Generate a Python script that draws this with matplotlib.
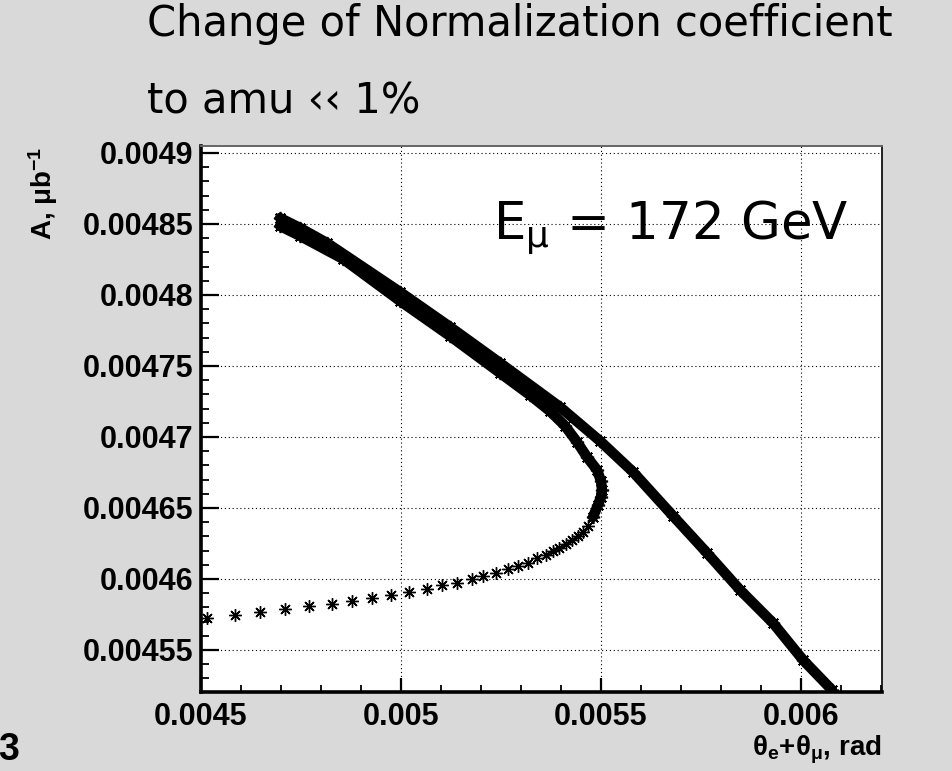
import numpy as np
import matplotlib.pyplot as plt
from matplotlib.ticker import MultipleLocator

plt.rcParams['font.family'] = ['Liberation Sans', 'DejaVu Sans']
plt.rcParams['mathtext.fontset'] = 'custom'
plt.rcParams['mathtext.rm'] = 'Liberation Sans'
plt.rcParams['mathtext.bf'] = 'Liberation Sans:bold'
plt.rcParams['mathtext.it'] = 'Liberation Sans:italic'

# sparse part of the curve, left of the turning point
low_x = [0.004515, 0.004585, 0.0046475, 0.00471, 0.00477, 0.0048275, 0.0048775,
         0.0049275, 0.004975, 0.00502, 0.005065, 0.0051025, 0.00514, 0.0051775,
         0.005205, 0.0052375, 0.0052675, 0.0052925, 0.0053175, 0.00534, 0.0053625,
         0.00538, 0.005395, 0.0054125, 0.0054275, 0.0054425, 0.005455, 0.0054675]
low_y = [0.0045725, 0.0045746, 0.0045768, 0.0045789, 0.004581, 0.0045824, 0.0045845,
         0.0045866, 0.0045887, 0.0045908, 0.004593, 0.0045958, 0.0045972, 0.0046,
         0.0046021, 0.0046042, 0.004607, 0.0046092, 0.0046113, 0.0046148, 0.0046169,
         0.0046197, 0.0046218, 0.0046247, 0.0046275, 0.0046303, 0.0046331, 0.0046373]

# dense branch: round the turning point and back up to the left end
inner_x = [0.00548, 0.0054925, 0.0055, 0.0055025, 0.0055, 0.00549, 0.005465, 0.00544,
           0.005410, 0.005372, 0.005322, 0.0052475, 0.0051225, 0.0049975, 0.004855,
           0.0047475, 0.0046975]
inner_y = [0.0046437, 0.0046521, 0.0046577, 0.0046627, 0.004669, 0.0046768, 0.0046859,
           0.0046965, 0.0047078, 0.0047183, 0.0047296, 0.0047451, 0.0047711, 0.0047958,
           0.0048254, 0.0048416, 0.0048486]

# dense branch running down to the right
outer_x = [0.0046975, 0.0047475, 0.004815, 0.0049975, 0.0051225, 0.0052475, 0.0053975,
           0.0054975, 0.00558, 0.00568, 0.005765, 0.0058475, 0.00593, 0.006005, 0.0060775]
outer_y = [0.0048542, 0.0048472, 0.0048366, 0.0048021, 0.0047775, 0.0047521, 0.0047211,
           0.0046972, 0.0046754, 0.0046444, 0.0046183, 0.0045923, 0.004569, 0.004543, 0.0045218]

xticks = [0.0045, 0.005, 0.0055, 0.006]
xtick_labels = ['0.0045', '0.005', '0.0055', '0.006']
yticks = [0.00455, 0.0046, 0.00465, 0.0047, 0.00475, 0.0048, 0.00485, 0.0049]
ytick_labels = ['0.00455', '0.0046', '0.00465', '0.0047', '0.00475', '0.0048', '0.00485', '0.0049']

fig = plt.figure(figsize=(9.53, 7.71), dpi=100)
fig.patch.set_facecolor('#d9d9d9')
ax = fig.add_axes([201/953, 1 - 692/771, 681/953, 546/771])
ax.set_facecolor('white')

ax.set_xlim(0.0045, 0.0062025)
ax.set_ylim(0.0045204, 0.0049049)

ax.set_xticks(xticks, xtick_labels, fontweight='bold', fontsize=22)
ax.set_yticks(yticks, ytick_labels, fontweight='bold', fontsize=22)
ax.xaxis.set_minor_locator(MultipleLocator(0.0001))
ax.yaxis.set_minor_locator(MultipleLocator(0.00001))

ax.tick_params(axis='y', which='major', direction='in', length=13, width=1.6, pad=5.5)
ax.tick_params(axis='y', which='minor', direction='in', length=6, width=1.3)
ax.tick_params(axis='x', which='major', direction='in', length=10, width=1.6, pad=7)
ax.tick_params(axis='x', which='minor', direction='in', length=5, width=1.3)

ax.grid(True, which='major', color='black', lw=0.8, linestyle=(0, (1, 2.5)))
ax.set_axisbelow(True)

for s in ['left', 'bottom']:
    ax.spines[s].set_linewidth(2.6)
ax.spines['top'].set_linewidth(1.4)
ax.spines['top'].set_color('#666666')
ax.spines['right'].set_linewidth(1.2)

star = (8, 2, 0)
for bx, by in [(inner_x, inner_y), (outer_x, outer_y)]:
    ax.plot(bx, by, '-', color='black', lw=7.5,
            solid_capstyle='round', solid_joinstyle='round', zorder=3)
    ax.plot(bx, by, ls='none', marker=star, ms=9.5, mew=1.2, color='black', zorder=4)

ax.plot(low_x, low_y, ls='none', marker=star, ms=9, mew=1.0, color='black', zorder=4)
ax.plot(low_x, low_y, ls='none', marker='o', ms=2.5, color='black', zorder=5)

# axis titles
fig.text(43/953, 1 - 147/771, r'A, $\mathregular{\mu}$b$^{\mathbf{-1}}$',
         rotation=90, ha='center', va='top', fontsize=20, fontweight='bold')
fig.text(882/953, 1 - 755/771,
         r'$\mathregular{\theta}_{\mathbf{e}}$+$\mathregular{\theta}_{\mathregular{\mu}}$, rad',
         ha='right', va='baseline', fontsize=20, fontweight='bold')

# slide heading and energy label
fig.text(147/953, 1 - 36/771, 'Change of Normalization coefficient',
         ha='left', va='baseline', fontsize=30, family='DejaVu Sans')
fig.text(147/953, 1 - 113/771, 'to amu \u2039\u2039 1%',
         ha='left', va='baseline', fontsize=30, family='DejaVu Sans')
fig.text(493/953, 1 - 239/771, r'E$_\mathregular{\mu}$ = 172 GeV',
         ha='left', va='baseline', fontsize=37, family='DejaVu Sans')

fig.text(-0.002, 1 - 760/771, '3', ha='left', va='baseline', fontsize=27, fontweight='bold')

fig.savefig('out.png', dpi=100, facecolor=fig.get_facecolor())
